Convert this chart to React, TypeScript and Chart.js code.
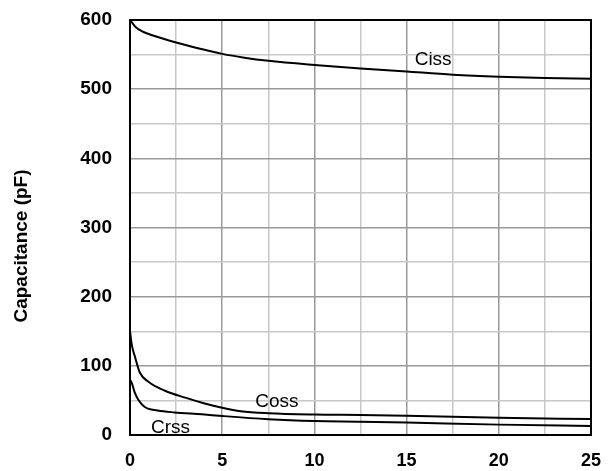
import React, { useEffect, useRef } from "react";
import { Chart, registerables } from "chart.js";

Chart.register(...registerables);

const cissX = [0, 0.3, 0.7, 1.2, 2.5, 3.8, 5, 6.2, 7.5, 10, 12.5, 15, 17.5, 20, 22.5, 25];
const cissY = [600, 590, 583, 578, 567.5, 558.5, 551, 545.5, 541, 535, 530, 525.5, 521, 518, 516, 515];

const cossX = [0, 0.1, 0.27, 0.54, 1, 1.9, 3, 4, 5, 6, 7.5, 10, 12.5, 15, 20, 25];
const cossY = [150, 130, 113, 90, 77, 64, 54, 46, 39.5, 34.5, 31.5, 29.6, 29, 28, 25, 23];

const crssX = [0, 0.1, 0.25, 0.45, 0.8, 1.5, 2.4, 3.9, 5, 7.5, 10, 12.5, 15, 20, 25];
const crssY = [80, 75, 62, 51, 40.5, 35.5, 32.7, 30, 27.5, 22.8, 20.2, 19.3, 18, 15, 13];

const seriesLabels = ["Ciss", "Coss", "Crss"];
const xTicks = [0, 5, 10, 15, 20, 25];
const yTicks = [0, 100, 200, 300, 400, 500, 600];

const annotations = [
  { text: "Ciss", x: 16.44, y: 543 },
  { text: "Coss", x: 7.97, y: 48 },
  { text: "Crss", x: 2.2, y: 11 },
];

const toPts = (xs: number[], ys: number[]) => xs.map((x, i) => ({ x, y: ys[i] }));
const FONT = "Arial, 'Liberation Sans', sans-serif";

export default function App() {
  const ref = useRef<HTMLCanvasElement>(null);
  useEffect(() => {
    document.body.style.margin = "0";
    const canvas = ref.current!;
    const boxPlugin = {
      id: "boxAndText",
      afterDatasetsDraw(chart: any) {
        const { ctx, chartArea: a, scales } = chart;
        ctx.save();
        ctx.fillStyle = "#000";
        ctx.font = "19px " + FONT;
        ctx.textAlign = "center";
        ctx.textBaseline = "middle";
        for (const an of annotations) {
          ctx.fillText(an.text, scales.x.getPixelForValue(an.x), scales.y.getPixelForValue(an.y));
        }
        ctx.strokeStyle = "#000";
        ctx.lineWidth = 2;
        ctx.strokeRect(a.left, a.top, a.right - a.left, a.bottom - a.top);
        ctx.translate(22, 246);
        ctx.rotate(-Math.PI / 2);
        ctx.font = "bold 19px " + FONT;
        ctx.fillText("Capacitance (pF)", 0, 0);
        ctx.restore();
      },
    };
    const mk = (label: string, xs: number[], ys: number[]) => ({
      label,
      data: toPts(xs, ys),
      borderColor: "#000",
      borderWidth: 2,
      pointRadius: 0,
      cubicInterpolationMode: "monotone" as const,
      fill: false,
    });
    const chart = new Chart(canvas, {
      type: "line",
      data: {
        datasets: [
          mk(seriesLabels[0], cissX, cissY),
          mk(seriesLabels[1], cossX, cossY),
          mk(seriesLabels[2], crssX, crssY),
        ],
      },
      options: {
        animation: false,
        responsive: false,
        maintainAspectRatio: false,
        layout: { padding: { top: 20, right: 20, left: 0, bottom: 0 } },
        plugins: { legend: { display: false }, tooltip: { enabled: false } },
        scales: {
          x: {
            type: "linear",
            min: 0,
            max: 25,
            afterFit: (s: any) => { s.height = 36; s.paddingLeft = 0; s.paddingRight = 0; },
            afterBuildTicks: (s: any) => {
              const t = [];
              for (let v = 0; v <= 25; v += 2.5) t.push({ value: v });
              s.ticks = t;
            },
            ticks: {
              autoSkip: false,
              maxRotation: 0,
              padding: 15,
              color: "#000",
              font: { family: FONT, size: 18, weight: "bold" },
              callback: (v: any) => (xTicks.includes(Number(v)) ? String(v) : ""),
            },
            grid: {
              drawTicks: false,
              lineWidth: 1.5,
              color: (c: any) => (c.tick && c.tick.value % 5 === 0 ? "#999999" : "#c8c8c8"),
            },
            border: { display: false },
          },
          y: {
            type: "linear",
            min: 0,
            max: 600,
            afterFit: (s: any) => { s.width = 130; s.paddingTop = 0; s.paddingBottom = 0; },
            afterBuildTicks: (s: any) => {
              const t = [];
              for (let v = 0; v <= 600; v += 50) t.push({ value: v });
              s.ticks = t;
            },
            ticks: {
              autoSkip: false,
              padding: 18,
              color: "#000",
              font: { family: FONT, size: 19, weight: "bold" },
              callback: (v: any) => (yTicks.includes(Number(v)) ? String(v) : ""),
            },
            grid: {
              drawTicks: false,
              lineWidth: 1.5,
              color: (c: any) => (c.tick && c.tick.value % 100 === 0 ? "#999999" : "#c8c8c8"),
            },
            border: { display: false },
          },
        },
      },
      plugins: [boxPlugin],
    });
    return () => chart.destroy();
  }, []);
  return (
    <div style={{ width: 611, height: 471 }}>
      <canvas ref={ref} width={611} height={471} style={{ display: "block" }} />
    </div>
  );
}
